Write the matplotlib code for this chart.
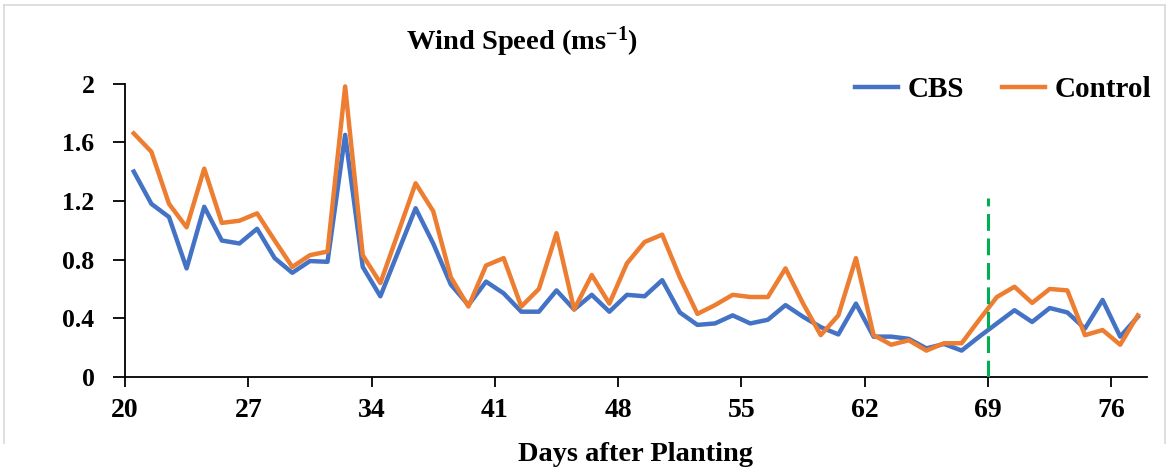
import numpy as np
import matplotlib
matplotlib.use("Agg")
import matplotlib.pyplot as plt
from matplotlib.lines import Line2D

# daily mean wind speed (m/s), one value per day after planting
days = list(range(20, 78))
cbs = [1.40, 1.18, 1.09, 0.74, 1.16, 0.93, 0.91, 1.01, 0.81, 0.71,
       0.79, 0.785, 1.65, 0.75, 0.55, 0.85, 1.15, 0.91, 0.63, 0.49,
       0.65, 0.57, 0.445, 0.445, 0.59, 0.46, 0.56, 0.445, 0.56, 0.55,
       0.66, 0.44, 0.355, 0.365, 0.42, 0.365, 0.39, 0.49, 0.41, 0.34,
       0.29, 0.50, 0.275, 0.275, 0.26, 0.195, 0.225, 0.18, 0.275, 0.365,
       0.455, 0.375, 0.47, 0.44, 0.33, 0.525, 0.275, 0.41]
control = [1.66, 1.535, 1.18, 1.02, 1.42, 1.05, 1.065, 1.115, 0.93, 0.75,
           0.83, 0.855, 1.98, 0.83, 0.64, 0.98, 1.32, 1.13, 0.68, 0.48,
           0.76, 0.81, 0.48, 0.60, 0.98, 0.46, 0.695, 0.50, 0.775, 0.92,
           0.97, 0.68, 0.43, 0.49, 0.56, 0.545, 0.545, 0.74, 0.50, 0.285,
           0.42, 0.81, 0.285, 0.22, 0.25, 0.18, 0.23, 0.23, 0.39, 0.545,
           0.615, 0.505, 0.60, 0.59, 0.285, 0.32, 0.22, 0.42]
tick_days = [20, 27, 34, 41, 48, 55, 62, 69, 76]
yticks = [0, 0.4, 0.8, 1.2, 1.6, 2.0]
ytick_labels = ["0", "0.4", "0.8", "1.2", "1.6", "2"]
marker_day = 69      # green dashed reference line
marker_top = 1.22

BLUE = "#4472C4"
ORANGE = "#ED7D31"
GREEN = "#00B050"
FONT = "Liberation Serif"

plt.rcParams["font.family"] = [FONT, "DejaVu Serif"]
plt.rcParams["font.weight"] = "bold"
plt.rcParams["mathtext.fontset"] = "custom"
plt.rcParams["mathtext.rm"] = "Liberation Serif:bold"
plt.rcParams["mathtext.it"] = "Liberation Serif:bold"
plt.rcParams["mathtext.bf"] = "Liberation Serif:bold"

fig = plt.figure(figsize=(11.7, 4.71), dpi=100)
ax = fig.add_axes([0.1068, 0.1996, 0.8732, 0.6231])

# category-style axis: each day sits in the middle of its slot
pos = np.arange(len(days)) + 0.5
ax.plot(pos, cbs, color=BLUE, lw=3.2, label="CBS", solid_joinstyle="round")
ax.plot(pos, control, color=ORANGE, lw=3.2, label="Control", solid_joinstyle="round")

mpos = days.index(marker_day)
ax.vlines(mpos, 0, marker_top, colors=GREEN, linestyles=(0, (5.5, 2.5)), lw=2.2, zorder=3)

ax.set_xlim(0, len(days))
ax.set_ylim(0, 2)
ax.set_xticks([days.index(d) for d in tick_days])
ax.set_xticklabels([str(d) for d in tick_days], fontsize=20, fontweight="bold")
ax.set_yticks(yticks)
ax.set_yticklabels(ytick_labels, fontsize=18.5, fontweight="bold")
ax.tick_params(axis="x", direction="out", length=7, width=1.3, pad=8)
ax.tick_params(axis="y", direction="out", length=9, width=1.3, pad=13)

for s in ("top", "right"):
    ax.spines[s].set_visible(False)
for s in ("left", "bottom"):
    ax.spines[s].set_linewidth(1.3)

ax.set_xlabel("Days after Planting", fontsize=20.5, fontweight="bold", labelpad=14)
fig.text(0.446, 0.912, "Wind Speed (ms$^{-1}$)", fontsize=20.5,
         fontweight="bold", ha="center", va="center")

ax.legend(loc="center right", bbox_to_anchor=(1.006, 0.81), bbox_transform=fig.transFigure,
          ncol=2, frameon=False, handlelength=1.5, handletextpad=0.3,
          columnspacing=1.3, prop={"family": FONT, "weight": "bold", "size": 21})

# light chart-area frame (top, left and right edges)
frame = dict(transform=fig.transFigure, color="#d9d9d9", lw=1.2)
fig.lines.append(Line2D([0.003, 0.996], [0.99, 0.99], **frame))
fig.lines.append(Line2D([0.003, 0.003], [0.06, 0.99], **frame))
fig.lines.append(Line2D([0.996, 0.996], [0.06, 0.99], **frame))

fig.savefig("out.png", dpi=100)
